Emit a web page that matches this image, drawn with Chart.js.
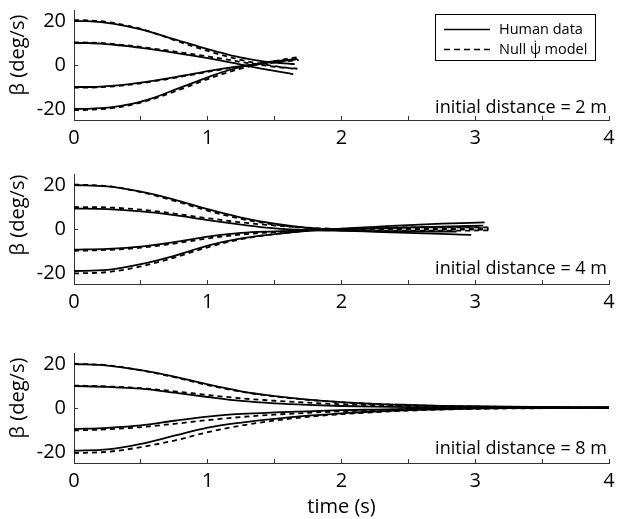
<!DOCTYPE html>
<html><head><meta charset="utf-8">
<script src="https://cdn.jsdelivr.net/npm/chart.js@4/dist/chart.umd.min.js"></script>
<style>
body{margin:0;background:#fff;width:617px;height:519px;overflow:hidden;position:relative;font-family:'Open Sans',sans-serif;color:#000;}
canvas{position:absolute;left:0;}
.ylab{position:absolute;width:120px;height:24px;line-height:24px;text-align:center;font-size:20px;transform:rotate(-90deg);transform-origin:50% 50%;white-space:nowrap;}
.ann{position:absolute;right:10px;height:24px;line-height:24px;font-size:18px;white-space:nowrap;}
.legend{position:absolute;left:435px;top:14px;width:161px;height:47px;border:1px solid #000;box-sizing:border-box;background:#fff;}
.legend .row{position:absolute;left:0;height:20px;line-height:20px;font-size:14.5px;white-space:nowrap;}
.legend svg{position:absolute;left:8px;top:9px;}
.legend span{position:absolute;left:63px;top:0;}
</style>
</head><body>
<canvas id="c1" width="617" height="160" style="top:0px"></canvas>
<canvas id="c2" width="617" height="160" style="top:164px"></canvas>
<canvas id="c3" width="617" height="176" style="top:343px"></canvas>

<div class="ylab" style="left:-43px;top:43px">β (deg/s)</div>
<div class="ylab" style="left:-43px;top:203px">β (deg/s)</div>
<div class="ylab" style="left:-43px;top:386px">β (deg/s)</div>

<div class="ann" id="a1" style="top:94px"></div>
<div class="ann" id="a2" style="top:255px"></div>
<div class="ann" id="a3" style="top:435px"></div>

<div class="legend">
  <div class="row" style="top:4px"><svg width="46" height="3"><line x1="0" y1="1.5" x2="46" y2="1.5" stroke="#000" stroke-width="1.6"/></svg><span id="lg1"></span></div>
  <div class="row" style="top:24px"><svg width="46" height="3"><line x1="0" y1="1.5" x2="46" y2="1.5" stroke="#000" stroke-width="1.6" stroke-dasharray="6,4"/></svg><span id="lg2"></span></div>
</div>

<script>
// ---- labels ----
const seriesNames = ['Human data', 'Null \u03C8\u0307 model'];
const panelLabels = ['initial distance = 2 m', 'initial distance = 4 m', 'initial distance = 8 m'];
const xTickValues = [0, 0.5, 1, 1.5, 2, 2.5, 3, 3.5, 4];
const yTickValues = [-20, 0, 20];

// ---- panel 1: initial distance 2 m ----
const time2m = [0, 0.1, 0.2, 0.3, 0.4, 0.5, 0.6, 0.7, 0.8, 0.9, 1.0, 1.1, 1.2, 1.3, 1.4, 1.5, 1.6];
const end2mHuman = [1.65, 1.64, 1.67, 1.66];
const end2mModel = [1.67, 1.67, 1.68, 1.69];
const human2m_p20 = [20, 19.9, 19.5, 18.7, 17.6, 16.2, 14.5, 12.6, 10.8, 9.0, 7.2, 5.6, 4.0, 2.8, 1.8, 1.1, 0.6, 0.4];
const human2m_p10 = [10, 10, 9.7, 9.2, 8.6, 7.8, 7.0, 6.1, 5.1, 4.1, 3.1, 2.0, 0.8, -0.4, -1.6, -2.7, -3.7, -4.2];
const human2m_m10 = [-10, -10, -9.8, -9.4, -8.8, -8.0, -7.1, -6.1, -5.0, -3.9, -2.8, -1.8, -0.9, -0.1, 0.7, 1.4, 2.1, 2.8];
const human2m_m20 = [-20, -19.9, -19.6, -19.0, -18.0, -16.6, -14.8, -12.5, -10.2, -7.9, -5.6, -3.4, -1.6, -0.2, 0.9, 1.7, 2.3, 2.6];
const model2m_p20 = [20.4, 20.3, 19.9, 19.1, 17.9, 16.4, 14.5, 12.4, 10.3, 8.3, 6.4, 4.6, 3.0, 1.6, 0.5, -0.5, -1.3, -1.7];
const model2m_p10 = [10.3, 10.2, 10.0, 9.5, 8.9, 8.2, 7.4, 6.6, 5.7, 4.8, 3.9, 2.9, 1.9, 0.9, 0.0, -0.8, -1.4, -1.8];
const model2m_m10 = [-10.3, -10.3, -10.1, -9.7, -9.1, -8.3, -7.4, -6.4, -5.3, -4.2, -3.1, -2.1, -1.2, -0.4, 0.4, 1.1, 1.8, 2.3];
const model2m_m20 = [-20.5, -20.4, -20.1, -19.5, -18.5, -17.1, -15.3, -13.2, -11.0, -8.7, -6.4, -4.3, -2.4, -0.8, 0.6, 1.8, 2.9, 3.8];

// ---- panel 2: initial distance 4 m ----
const time4m = [0, 0.25, 0.5, 0.75, 1.0, 1.25, 1.5, 1.75, 2.0, 2.25, 2.5, 2.75];
const end4mHuman = [2.97, 2.86, 3.06, 3.07];
const end4mModel = [3.1, 3.1, 3.1, 3.1];
const human4m_p20 = [20, 19.4, 17.0, 13.4, 9.0, 5.2, 2.4, 0.5, -0.6, -1.3, -1.8, -2.2, -2.7];
const human4m_p10 = [9.3, 9.0, 8.0, 6.3, 4.0, 2.0, 0.3, -0.5, -0.8, -1.0, -1.1, -1.2, -1.2];
const human4m_m10 = [-9.4, -9.0, -8.0, -6.0, -3.5, -1.8, -1.1, -0.6, -0.2, 0.3, 0.7, 1.1, 1.5];
const human4m_m20 = [-19.1, -18.6, -16.0, -12.2, -7.6, -4.3, -2.3, -0.8, 0.2, 1.0, 1.8, 2.4, 3.0];
const model4m_p20 = [20.2, 19.5, 16.8, 12.8, 8.3, 4.6, 2.0, 0.4, -0.4, -0.7, -0.8, -0.8, -0.6];
const model4m_p10 = [10, 9.8, 8.8, 7.0, 4.9, 3.0, 1.6, 0.6, 0.0, -0.2, -0.3, -0.3, -0.3];
const model4m_m10 = [-9.9, -9.5, -8.5, -6.6, -4.3, -2.5, -1.4, -0.6, -0.1, 0.2, 0.3, 0.4, 0.4];
const model4m_m20 = [-20.2, -19.6, -17.0, -13.0, -8.3, -4.6, -2.3, -0.8, 0.1, 0.5, 0.7, 0.8, 0.7];

// ---- panel 3: initial distance 8 m ----
const time8m = [0, 0.25, 0.5, 0.75, 1.0, 1.25, 1.5, 1.75, 2.0, 2.25, 2.5, 2.75, 3.0, 3.25, 3.5, 3.75];
const end8mHuman = [4, 4, 4, 4];
const end8mModel = [4, 4, 4, 4];
const human8m_p20 = [20, 19.3, 17.2, 14.3, 10.7, 7.6, 5.4, 3.8, 2.7, 1.9, 1.4, 1.0, 0.8, 0.6, 0.5, 0.4, 0.4];
const human8m_p10 = [10, 9.6, 8.8, 7.0, 5.0, 3.2, 2.1, 1.4, 0.9, 0.6, 0.4, 0.3, 0.2, 0.2, 0.1, 0.1, 0.1];
const human8m_m10 = [-9.6, -9.0, -7.9, -5.8, -3.9, -2.7, -2.0, -1.5, -1.0, -0.7, -0.4, -0.2, 0, 0.1, 0.1, 0.2, 0.2];
const human8m_m20 = [-19.4, -18.8, -16.3, -12.6, -8.9, -6.6, -4.9, -3.5, -2.4, -1.6, -1.0, -0.6, -0.3, -0.1, 0, 0.1, 0.1];
const model8m_p20 = [20.2, 19.4, 17.1, 14.0, 10.4, 7.4, 5.3, 3.7, 2.6, 1.8, 1.3, 0.9, 0.7, 0.5, 0.4, 0.3, 0.3];
const model8m_p10 = [10.2, 9.8, 9.0, 7.6, 5.9, 4.4, 3.3, 2.4, 1.7, 1.2, 0.9, 0.7, 0.5, 0.4, 0.3, 0.3, 0.2];
const model8m_m10 = [-10.2, -9.7, -8.7, -7.2, -5.5, -4.1, -3.0, -2.2, -1.5, -1.0, -0.6, -0.3, -0.1, 0, 0.1, 0.1, 0.2];
const model8m_m20 = [-20.5, -19.9, -17.8, -14.8, -11.0, -8.0, -5.7, -4.0, -2.8, -1.9, -1.2, -0.7, -0.4, -0.2, -0.1, 0, 0.1];

document.getElementById('a1').textContent = panelLabels[0];
document.getElementById('a2').textContent = panelLabels[1];
document.getElementById('a3').textContent = panelLabels[2];
document.getElementById('lg1').textContent = seriesNames[0];
document.getElementById('lg2').textContent = seriesNames[1];

function pts(times, end, vals) {
  return times.concat([end]).map((t, i) => ({x: t, y: vals[i]}));
}
function makeSets(times, endH, endM, humans, models) {
  const sets = [];
  humans.forEach((v, i) => sets.push({label: seriesNames[0], data: pts(times, endH[i], v), borderDash: []}));
  models.forEach((v, i) => sets.push({label: seriesNames[1], data: pts(times, endM[i], v), borderDash: [5, 4]}));
  return sets.map(s => Object.assign(s, {borderColor: '#000', borderWidth: 1.8, pointRadius: 0, fill: false, cubicInterpolationMode: 'monotone'}));
}

const tickFont = {family: "'Open Sans', sans-serif", size: 20};
function makePanel(id, sets, xh, showTitle) {
  new Chart(document.getElementById(id), {
    type: 'line',
    data: {datasets: sets},
    options: {
      responsive: false, animation: false, devicePixelRatio: 1,
      layout: {padding: {left: 0, right: 8, top: 10, bottom: 0}},
      plugins: {legend: {display: false}, tooltip: {enabled: false}},
      scales: {
        x: {
          type: 'linear', min: 0, max: 4, position: 'bottom',
          afterBuildTicks: s => { s.ticks = xTickValues.map(v => ({value: v})); },
          afterFit: s => { s.height = xh; s.paddingLeft = 0; s.paddingRight = 0; },
          ticks: {autoSkip: false, maxRotation: 0, padding: 10, color: '#000', font: tickFont,
                  callback: v => Number.isInteger(v) ? String(v) : ''},
          grid: {drawOnChartArea: false, drawTicks: true, tickLength: -4, color: '#333', lineWidth: 1},
          border: {display: true, color: '#333', width: 1},
          title: {display: showTitle, text: 'time (s)', color: '#000', font: tickFont, padding: {top: 0, bottom: 0}}
        },
        y: {
          min: -25, max: 25, position: 'left',
          afterBuildTicks: s => { s.ticks = yTickValues.map(v => ({value: v})); },
          afterFit: s => { s.width = 74; s.paddingTop = 0; s.paddingBottom = 0; },
          ticks: {padding: 12, color: '#000', font: tickFont},
          grid: {drawOnChartArea: false, drawTicks: true, tickLength: -4, color: '#333', lineWidth: 1},
          border: {display: true, color: '#333', width: 1}
        }
      }
    }
  });
}

makePanel('c1', makeSets(time2m, end2mHuman, end2mModel,
  [human2m_p20, human2m_p10, human2m_m10, human2m_m20],
  [model2m_p20, model2m_p10, model2m_m10, model2m_m20]), 40, false);
makePanel('c2', makeSets(time4m, end4mHuman, end4mModel,
  [human4m_p20, human4m_p10, human4m_m10, human4m_m20],
  [model4m_p20, model4m_p10, model4m_m10, model4m_m20]), 40, false);
makePanel('c3', makeSets(time8m, end8mHuman, end8mModel,
  [human8m_p20, human8m_p10, human8m_m10, human8m_m20],
  [model8m_p20, model8m_p10, model8m_m10, model8m_m20]), 56, true);
</script>
</body></html>
